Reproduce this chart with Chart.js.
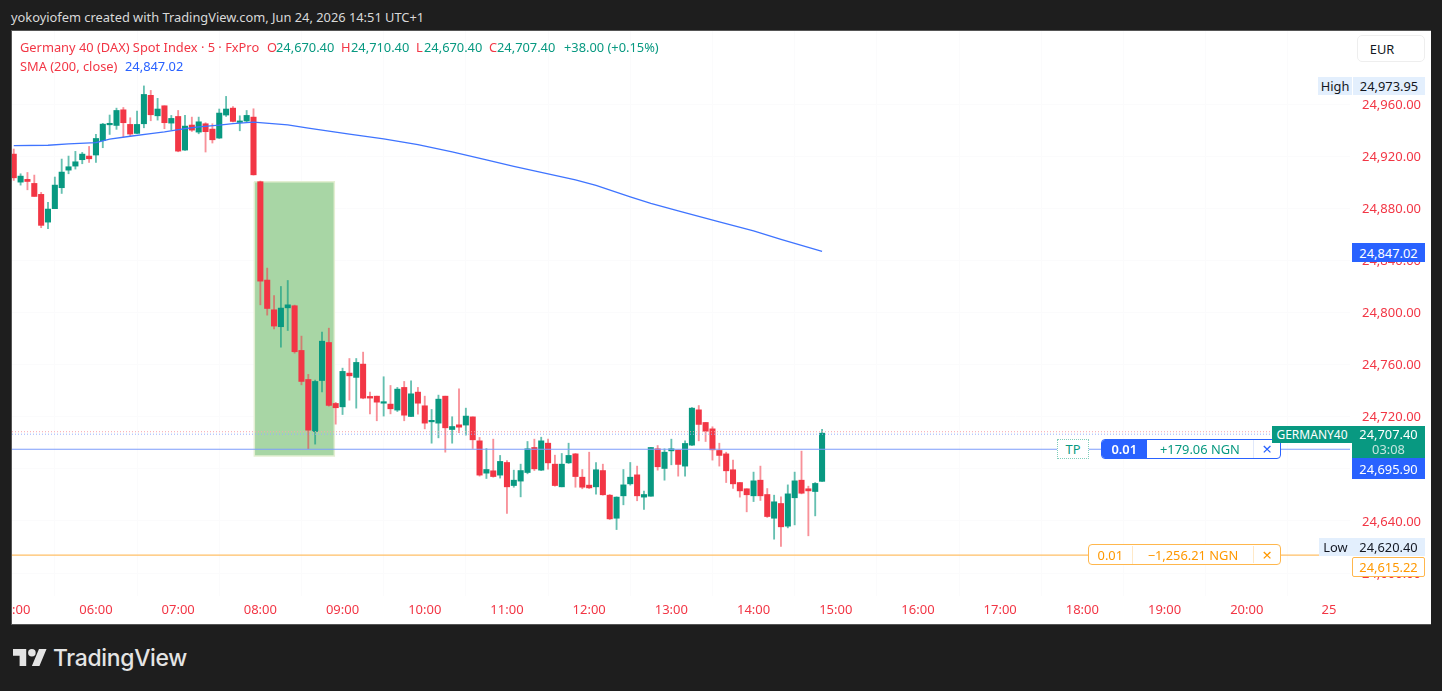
<!DOCTYPE html>
<html><head><meta charset="utf-8">
<script src="https://cdn.jsdelivr.net/npm/chart.js@4"></script>
<style>
html,body{margin:0;padding:0;background:#1e1e1e;width:1442px;height:691px;overflow:hidden;font-family:"Noto Sans",sans-serif}
#panel{position:absolute;left:11px;top:30px;width:1419px;height:593px;background:#fff;border:1px solid #555;border-right:0;box-sizing:content-box}
#c{position:absolute;left:12px;top:31px}
.t{position:absolute;white-space:nowrap;font-size:12.85px;line-height:16px}
.b{position:absolute;box-sizing:border-box;white-space:nowrap;font-size:12.85px;display:flex;align-items:center;justify-content:center}
.r{color:#f23645}.g{color:#089981}.bl{color:#2962ff}.o{color:#ff9800}
.lv{background:#e3effd;color:#131722}
</style></head><body>
<div class="t" style="left:11px;top:9px;color:#d9d9d9">yokoyiofem created with TradingView.com, Jun 24, 2026 14:51 UTC+1</div>
<div id="panel"></div>
<canvas id="c" width="1418" height="593"></canvas>

<div class="t r" style="left:20px;top:39px">Germany 40 (DAX) Spot Index · 5 · FxPro</div>
<div class="t r" style="left:267px;top:39px">O</div><div class="t g" style="left:276px;top:39px">24,670.40</div>
<div class="t r" style="left:341px;top:39px">H</div><div class="t g" style="left:351px;top:39px">24,710.40</div>
<div class="t r" style="left:416px;top:39px">L</div><div class="t g" style="left:424px;top:39px">24,670.40</div>
<div class="t r" style="left:489px;top:39px">C</div><div class="t g" style="left:497px;top:39px">24,707.40</div>
<div class="t g" style="left:564px;top:39px">+38.00 (+0.15%)</div>
<div class="t r" style="left:20px;top:58px">SMA (200, close)</div>
<div class="t bl" style="left:125px;top:58px">24,847.02</div>

<div class="b" style="left:1357px;top:35px;width:68px;height:27px;border:1px solid #eeeeee;border-radius:5px;color:#131722;background:#fff;padding-right:18px">EUR</div>
<div class="b lv" style="left:1318px;top:77px;width:34px;height:18px">High</div>
<div class="b lv" style="left:1353px;top:77px;width:72px;height:18px">24,973.95</div>
<div class="b" style="left:1352px;top:243px;width:73px;height:19px;background:#2962ff;color:#fff">24,847.02</div>

<div class="b" style="left:1057px;top:439px;width:32px;height:20px;border:1px dotted #7fcdbb;background:#fff;color:#089981">TP</div>
<div class="b" style="left:1101px;top:439px;width:180px;height:20px;border:1px solid #2962ff;border-radius:4px;background:#fff;overflow:hidden;justify-content:flex-start">
  <span style="width:45px;height:100%;background:#2962ff;color:#fff;display:flex;align-items:center;justify-content:center;font-weight:600">0.01</span>
  <span class="g" style="width:108px;text-align:center">+179.06 NGN</span>
  <span class="bl" style="width:26px;height:100%;text-align:center;border-left:1px solid #e0e8fb;font-size:17px;line-height:17px">×</span>
</div>
<div class="b" style="left:1272px;top:426px;width:80px;height:17px;background:#089981;color:#fff;font-size:12px">GERMANY40</div>
<div class="b" style="left:1352px;top:426px;width:73px;height:32px;background:#089981;color:#fff;flex-direction:column;line-height:15px">
  <span>24,707.40</span><span style="color:#c5e6df">03:08</span></div>
<div class="b" style="left:1352px;top:458px;width:73px;height:21px;background:#2962ff;color:#fff">24,695.90</div>

<div class="b lv" style="left:1319px;top:538px;width:33px;height:18px">Low</div>
<div class="b lv" style="left:1352px;top:538px;width:73px;height:18px">24,620.40</div>
<div class="b o" style="left:1352px;top:557px;width:73px;height:20px;background:#fff;border:1px solid #ffb74d;border-radius:2px">24,615.22</div>
<div class="b o" style="left:1088px;top:544px;width:193px;height:21px;border:1px solid #ffb74d;border-radius:4px;background:#fff;justify-content:flex-start">
  <span style="width:43px;text-align:center;border-right:1px solid #ffe9c7">0.01</span>
  <span style="width:122px;text-align:center">−1,256.21 NGN</span>
  <span style="width:26px;text-align:center;border-left:1px solid #ffe9c7;font-size:17px;line-height:17px">×</span>
</div>

<svg style="position:absolute;left:13px;top:645px" width="34" height="27" viewBox="0 0 36 28" fill="#e4e4e4"><path d="M14 22H7V11H0V4h14v18zM28 22h-8l7.5-18h8L28 22z"/><circle cx="20" cy="8" r="4"/></svg>
<div class="t" style="left:53px;top:644px;font-size:22.9px;line-height:28px;color:#e4e4e4;font-weight:500;font-family:Inter,'Noto Sans',sans-serif;letter-spacing:-.3px">TradingView</div>

<script>
const opens=[24921.6,24900.1,24902.2,24899.1,24890.7,24869.4,24879.7,24895.8,24909.3,24912.4,24917.3,24920.1,24920.9,24931.9,24944.1,24943.6,24955.6,24944.4,24937.5,24944.9,24966.7,24951.0,24958.7,24945.4,24950.5,24924.7,24943.9,24938.5,24944.9,24940.8,24933.9,24951.6,24956.9,24945.9,24947.0,24950.0,
24900.4,24824.9,24802.1,24789.1,24803.6,24805.2,24770.9,24748.6,24708.7,24747.8,24777.0,24730.2,24727.6,24753.5,24750.2,24760.4,24735.6,24735.8,24730.4,24729.7,24725.1,24742.5,24720.2,24738.9,24728.4,24716.1,24715.1,24735.8,24710.2,24713.8,24713.6,
24719.9,24701.5,24676.7,24678.5,24675.2,24684.9,24667.2,24670.6,24677.2,24696.4,24679.0,24699.7,24683.6,24666.2,24684.6,24691.5,24673.6,24667.5,24666.2,24678.7,24659.8,24642.1,24659.3,24668.5,24675.4,
24658.3,24659.0,24695.4,24680.3,24693.8,24694.4,24682.1,24698.2,24725.3,24715.6,24710.7,24694.1,24691.5,24679.3,24669.5,24664.7,24659.3,24671.3,24660.3,24642.1,24653.4,24636.0,24657.8,24671.3,24664.7,24662.6,24670.4];
const closes=[24903.4,24904.7,24900.6,24889.1,24866.9,24879.4,24897.8,24907.8,24911.9,24915.7,24921.6,24918.0,24933.6,24944.6,24944.6,24955.1,24945.7,24937.0,24944.4,24967.4,24951.8,24956.2,24945.7,24949.0,24923.9,24943.1,24940.0,24946.4,24938.8,24932.6,24953.1,24956.2,24946.7,24946.7,24951.3,24905.7,
24824.1,24803.1,24789.6,24803.4,24805.9,24769.9,24747.1,24709.7,24747.1,24778.0,24728.7,24726.9,24754.8,24751.4,24761.7,24734.3,24734.3,24731.2,24731.2,24726.1,24741.2,24721.2,24737.6,24730.4,24715.1,24717.1,24733.5,24711.5,24712.5,24712.0,24720.5,
24702.3,24675.2,24679.5,24674.1,24685.7,24666.2,24671.3,24678.7,24695.4,24680.0,24701.5,24684.6,24667.2,24683.6,24690.3,24674.1,24665.9,24665.4,24679.3,24660.1,24641.6,24658.3,24667.7,24673.6,24659.3,
24660.3,24696.4,24681.6,24692.8,24695.4,24683.4,24699.5,24726.6,24714.1,24708.9,24694.6,24690.3,24678.5,24668.5,24663.1,24660.1,24670.8,24659.3,24643.4,24654.7,24635.5,24660.8,24670.8,24661.3,24663.1,24668.8,24707.4];
const highs=[24925.5,24906.5,24907.5,24905.5,24892.2,24884.5,24904.0,24917.8,24920.1,24923.7,24922.9,24927.5,24936.7,24945.2,24951.6,24956.9,24957.4,24949.5,24954.6,24973.95,24970.5,24964.4,24958.7,24951.3,24955.1,24951.3,24950.0,24950.0,24945.7,24944.9,24956.2,24965.9,24958.0,24951.0,24955.1,24956.4,
24900.9,24834.1,24813.1,24820.0,24824.6,24805.7,24781.9,24752.5,24748.1,24785.0,24788.0,24731.0,24757.3,24764.7,24764.7,24769.6,24738.9,24735.8,24750.7,24744.0,24742.5,24747.1,24747.6,24742.5,24735.8,24725.6,24736.6,24735.8,24720.0,24741.5,24726.6,
24719.9,24704.1,24695.6,24702.8,24690.3,24686.4,24679.0,24683.6,24701.0,24702.8,24704.3,24702.8,24690.5,24691.8,24699.7,24691.8,24679.5,24692.8,24684.9,24683.6,24660.3,24658.5,24679.5,24684.9,24682.1,
24662.9,24696.4,24697.9,24695.4,24702.8,24694.4,24701.5,24727.1,24728.6,24715.6,24712.3,24699.7,24692.8,24686.7,24669.5,24664.7,24677.5,24682.1,24664.9,24659.8,24658.5,24667.7,24677.5,24693.6,24666.7,24669.5,24710.4];
const lows=[24901.4,24897.8,24894.2,24889.1,24865.1,24864.3,24879.7,24891.4,24906.5,24910.1,24914.2,24915.2,24915.2,24926.5,24936.7,24940.6,24934.7,24935.7,24937.2,24941.8,24947.2,24947.7,24941.1,24940.3,24923.4,24924.4,24939.0,24937.2,24923.2,24930.1,24933.6,24950.5,24946.4,24939.5,24945.9,24905.5,
24805.9,24798.0,24787.5,24773.4,24786.2,24768.8,24744.5,24695.4,24699.0,24739.1,24728.1,24714.3,24721.7,24732.7,24726.6,24733.8,24722.2,24716.9,24720.5,24722.2,24724.0,24716.9,24720.0,24722.0,24710.7,24699.7,24703.8,24692.8,24699.7,24707.7,24705.9,
24695.6,24674.4,24672.6,24673.6,24672.9,24645.7,24665.9,24658.5,24676.2,24678.7,24678.7,24679.8,24666.7,24666.2,24684.1,24665.9,24664.7,24664.9,24660.6,24659.8,24641.1,24633.4,24652.4,24667.5,24655.5,
24648.8,24659.0,24679.0,24671.3,24683.1,24674.4,24674.4,24697.9,24701.5,24701.0,24686.7,24682.1,24669.5,24664.9,24658.3,24647.0,24654.9,24655.7,24642.7,24626.0,24620.4,24634.7,24637.0,24660.8,24628.6,24643.9,24670.4];

const smaIndex=[0,5,8,12,14,17,20,22,25,27,30,32,35,40,43,49,54,59,64,69,73,77,82,85,90,93,97,103,108,112,118];
const smaValues=[24928.1,24928.4,24929.4,24930.4,24933.1,24935.3,24937.4,24938.7,24941.2,24942.5,24943.8,24945.0,24946.1,24944.0,24941.6,24937.0,24933.3,24928.8,24923.3,24917.2,24912.2,24907.6,24901.8,24897.6,24888.8,24883.8,24878.0,24869.6,24862.6,24856.1,24847.02];

const boxLeft=35.12, boxRight=46.8, boxTop=24900.4, boxBottom=24689.9;
const tpLevel=24695.05, slLevel=24613.7, bidLevel=24708.5, askLevel=24706.6;

const timeLabels=["05:00","06:00","07:00","08:00","09:00","10:00","11:00","12:00","13:00","14:00","15:00","16:00","17:00","18:00","19:00","20:00","25"];
const timeIndex=[0,12,24,36,48,60,72,84,96,108,120,132,144,156,168,180,192];
const priceTicks=[24960,24920,24880,24840,24800,24760,24720,24680,24640,24600];

const xMin=-0.255, xMax=195.07, yMin=24582.4, yMax=25016.1;
const UP='#089981', DOWN='#f23645', UPW='rgba(8,153,129,.62)', DOWNW='rgba(242,54,69,.55)';

const idx=opens.map((_,i)=>i);
const isUp=idx.map(i=>closes[i]>=opens[i]);
const level=(v)=>[{x:xMin,y:v},{x:xMax,y:v}];
const noPad=s=>{s.paddingLeft=0;s.paddingRight=0;s.paddingTop=0;s.paddingBottom=0;};

new Chart(document.getElementById('c'),{
  data:{datasets:[
    {type:'line',order:20,data:[{x:boxLeft,y:boxTop},{x:boxRight,y:boxTop},{x:boxRight,y:boxBottom},{x:boxLeft,y:boxBottom},{x:boxLeft,y:boxTop}],
      fill:'shape',backgroundColor:'#a8d6a5',borderColor:'#e4efd2',borderWidth:1.5,pointRadius:0,tension:0},
    {type:'bar',order:6,data:idx.map(i=>({x:i,y:[lows[i],highs[i]]})),backgroundColor:idx.map(i=>isUp[i]?UPW:DOWNW),barThickness:1.2,grouped:false},
    {type:'bar',order:5,data:idx.map(i=>({x:i,y:[opens[i],closes[i]]})),backgroundColor:idx.map(i=>isUp[i]?UP:DOWN),barThickness:5.4,minBarLength:1.5,grouped:false},
    {type:'line',order:3,data:smaIndex.map((x,k)=>({x,y:smaValues[k]})),borderColor:'#3f74ff',borderWidth:1.3,pointRadius:0,tension:0,fill:false},
    {type:'line',order:2,data:level(tpLevel),borderColor:'#7d9dfb',borderWidth:1.2,pointRadius:0,fill:false},
    {type:'line',order:2,data:level(slLevel),borderColor:'#ffbf66',borderWidth:1.2,pointRadius:0,fill:false},
    {type:'line',order:2,data:level(bidLevel),borderColor:'#f7a3aa',borderWidth:1,borderDash:[1,2],pointRadius:0,fill:false},
    {type:'line',order:2,data:level(askLevel),borderColor:'#95b0fb',borderWidth:1,borderDash:[1,2],pointRadius:0,fill:false}
  ]},
  options:{
    responsive:false,animation:false,devicePixelRatio:1,
    parsing:{xAxisKey:'x',yAxisKey:'y'},
    layout:{padding:0},
    plugins:{legend:{display:false},tooltip:{enabled:false}},
    scales:{
      x:{type:'linear',min:xMin,max:xMax,offset:false,
        grid:{color:'#fbfbfc',drawTicks:false},border:{display:false},
        afterBuildTicks:s=>{s.ticks=timeIndex.map(v=>({value:v}));},
        afterFit:s=>{s.height=28;noPad(s);},
        ticks:{autoSkip:false,maxRotation:0,padding:6,color:DOWN,font:{family:'"Noto Sans"',size:13},
          callback:(v)=>timeLabels[timeIndex.indexOf(v)]}},
      y:{type:'linear',position:'right',min:yMin,max:yMax,
        grid:{color:'#fbfbfc',drawTicks:false},border:{display:false},
        afterBuildTicks:s=>{s.ticks=priceTicks.map(v=>({value:v}));},
        afterFit:s=>{s.width=80;noPad(s);},
        ticks:{autoSkip:false,padding:12,labelOffset:1,color:DOWN,font:{family:'"Noto Sans"',size:13},
          callback:(v)=>v.toLocaleString('en-US',{minimumFractionDigits:2,maximumFractionDigits:2})}}
    }
  }
});
</script>
</body></html>
